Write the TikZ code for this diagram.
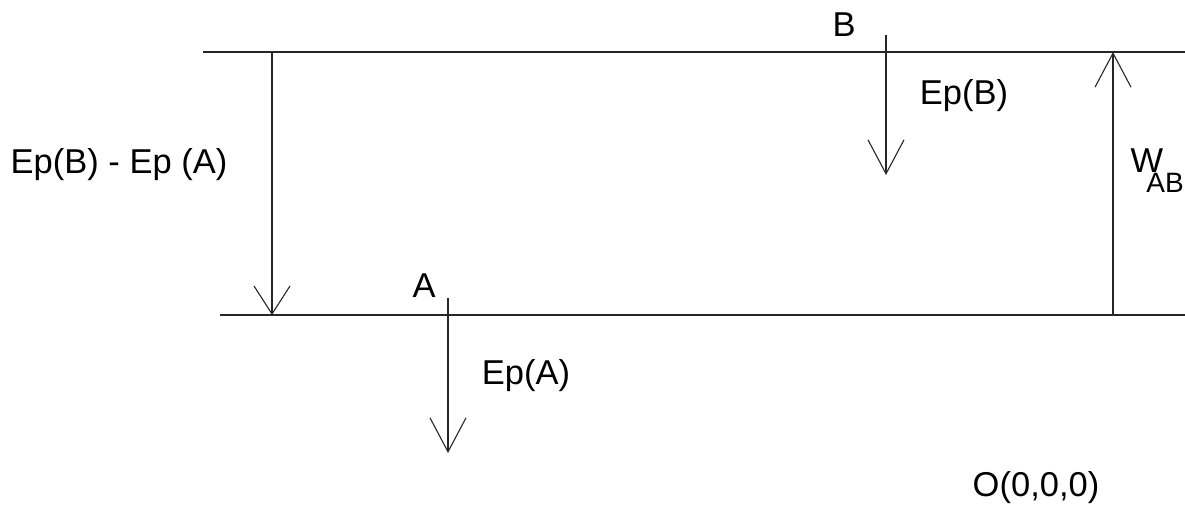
\documentclass[tikz,border=0pt]{standalone}
\usepackage{fontspec}
\setmainfont{Liberation Sans}
\usetikzlibrary{arrows.meta}
\begin{document}
\begin{tikzpicture}[x=1pt,y=-1pt,
  line/.style={draw=black!85,line width=1.1pt},
  vec/.style={line,-{Straight Barb[length=34pt,width=36pt,line width=1.1pt]}},
  lbl/.style={inner sep=0pt,font=\fontsize{34.5}{40}\selectfont},
  sublbl/.style={inner sep=0pt,font=\fontsize{28}{34}\selectfont}]
\useasboundingbox (0,0) rectangle (1185,523);
% the two levels
\coordinate (topL) at (203,52);
\coordinate (topR) at (1185,52);
\coordinate (botL) at (220,315);
\coordinate (botR) at (1185,315);
\draw[line] (topL) -- (topR);
\draw[line] (botL) -- (botR);
% difference of potential energy
\coordinate (dTop) at (272,52);
\coordinate (dBot) at (272,315);
\draw[vec,-{Straight Barb[length=28pt,width=36pt,line width=1.1pt]}] (dTop) -- (dBot);
\node[lbl] (diff) at (119,165) {Ep(B) - Ep (A)};
% point B
\coordinate (bTop) at (886,35);
\coordinate (bTip) at (886,175);
\coordinate (bTickL) at (868,52);
\coordinate (bTickR) at (903,52);
\draw[line] (bTickL) -- (bTickR);
\draw[vec] (bTop) -- (bTip);
\node[lbl] (B) at (844,25) {B};
\node[lbl] (epB) at (964,96) {Ep(B)};
% point A
\coordinate (aTop) at (448,298);
\coordinate (aTip) at (448,453);
\coordinate (aTickL) at (430,315);
\coordinate (aTickR) at (465,315);
\draw[line] (aTickL) -- (aTickR);
\draw[vec] (aTop) -- (aTip);
\node[lbl] (A) at (424,286) {A};
\node[lbl] (epA) at (526,376) {Ep(A)};
% work from A to B
\coordinate (wBot) at (1113,315);
\coordinate (wTop) at (1113,52);
\draw[vec] (wBot) -- (wTop);
\node[lbl] (W) at (1147,161) {W};
\node[sublbl] (AB) at (1165,183) {AB};
% origin
\node[lbl] (O) at (1036,488) {O(0,0,0)};
\end{tikzpicture}
\end{document}
